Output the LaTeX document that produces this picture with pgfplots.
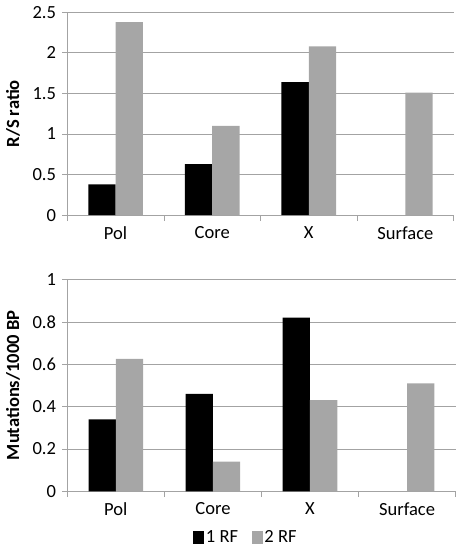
\documentclass[border=0pt]{standalone}
\usepackage{fontspec}
\setmainfont{Carlito}
\usepackage{pgfplots}
\pgfplotsset{compat=1.18}
\definecolor{barg}{HTML}{A6A6A6}
\definecolor{gridc}{HTML}{A3A3A3}
\begin{document}
\fontsize{19}{22}\selectfont
\begin{tikzpicture}
\pgfplotsset{
  common/.style={
    scale only axis, width=396pt,
    xmin=-0.5, xmax=3.5,
    xtick={0,1,2,3}, xticklabels={Pol,Core,X,Surface},
    minor xtick={-0.5,0.5,1.5,2.5,3.5},
    major x tick style={draw=none},
    minor x tick style={draw=gridc, line width=0.8pt},
    minor tick length=6pt,
    major tick length=5pt,
    tick align=outside,
    axis x line*=bottom, axis y line*=left,
    axis line style={-, draw=gridc, line width=0.8pt},
    ytick style={draw=gridc, line width=0.8pt},
    ymajorgrids, grid style={draw=gridc, line width=0.8pt},
    ybar=0pt, bar width=28pt,
    ymin=0,
    tick label style={font=\fontsize{19}{22}\selectfont},
    /pgf/number format/assume math mode=true,
    ylabel style={font=\fontsize{19}{22}\selectfont\bfseries},
    clip=false,
  }
}
\begin{axis}[common, name=top, height=208pt, ymax=2.5,
  ytick={0,0.5,1,1.5,2,2.5},
  yticklabels={0,0.5,1,1.5,2,2.5},
  ylabel={R/S ratio}]
\addplot[fill=black, draw=none] coordinates {(0,0.38) (1,0.63) (2,1.64)};
\addplot[fill=barg, draw=none] coordinates {(0,2.38) (1,1.10) (2,2.08) (3,1.51)};
\end{axis}
\begin{axis}[common, at={(0pt,-283pt)}, anchor=south west, height=217pt, width=398pt, ymax=1,
  ytick={0,0.2,0.4,0.6,0.8,1},
  yticklabels={0,0.2,0.4,0.6,0.8,1},
  ylabel={Mutations/1000 BP},
  legend style={at={(0.46,-0.165)}, anchor=north, legend columns=2, draw=none, fill=none,
    font=\fontsize{19}{22}\selectfont,
    /tikz/every even column/.append style={column sep=12pt}},
  legend image code/.code={\fill[#1] (0pt,-6pt) rectangle (11pt,7pt);}]
\addplot[fill=black, draw=none] coordinates {(0,0.34) (1,0.46) (2,0.82)};
\addplot[fill=barg, draw=none] coordinates {(0,0.625) (1,0.14) (2,0.43) (3,0.51)};
\legend{1 RF, 2 RF}
\end{axis}
\end{tikzpicture}
\end{document}
